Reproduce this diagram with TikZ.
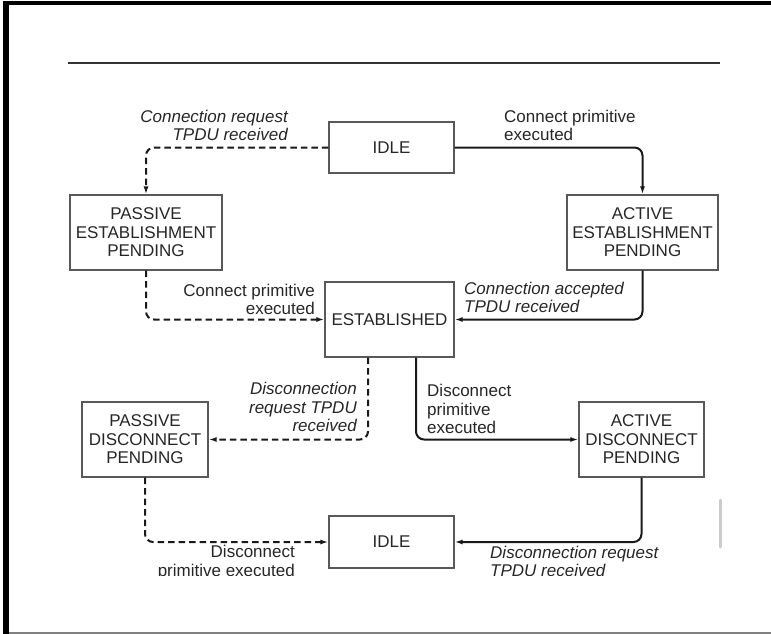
\documentclass[tikz,border=0pt]{standalone}
\usepackage{fontspec}
\setmainfont{Liberation Sans}
\usetikzlibrary{arrows.meta}
\begin{document}
\begin{tikzpicture}[x=1pt,y=-1pt,
  every node/.style={font=\fontsize{17}{18.5}\selectfont, text=black!85},
  state/.style={draw=black!65, line width=1.2pt, inner sep=0pt, align=center},
  lbl/.style={inner sep=0pt},
  solidarrow/.style={draw=black!90, line width=2pt, rounded corners=8pt, -{Latex[length=8pt,width=5pt]}},
  dasharrow/.style={solidarrow, dash pattern=on 6.5pt off 4pt}
]
\useasboundingbox (0,0) rectangle (771,634);
% frame
\draw[line width=6pt] (6,634) -- (6,3);
\draw[line width=4pt] (3,3) -- (771,3);
\draw[black!50, line width=1.5pt] (9,633) -- (771,633);
\draw[black!80, line width=1.4pt] (68,63) -- (720,63);
\draw[black!20, line width=3pt, line cap=round] (720,500) -- (720,547);

% states
\node[state, minimum width=125pt, minimum height=51pt] (idle1) at (391.5,147.5) {IDLE};
\node[state, minimum width=152pt, minimum height=75pt] (pe) at (146,232.5) {PASSIVE\\ESTABLISHMENT\\PENDING};
\node[state, minimum width=151pt, minimum height=75pt] (ae) at (642.5,232.5) {ACTIVE\\ESTABLISHMENT\\PENDING};
\node[state, minimum width=129pt, minimum height=75pt] (est) at (389.5,319.5) {ESTABLISHED};
\node[state, minimum width=126pt, minimum height=75pt] (pd) at (145,439.5) {PASSIVE\\DISCONNECT\\PENDING};
\node[state, minimum width=125pt, minimum height=75pt] (ad) at (641.5,439.5) {ACTIVE\\DISCONNECT\\PENDING};
\node[state, minimum width=125pt, minimum height=52pt] (idle2) at (391.5,542) {IDLE};

% transitions
\draw[dasharrow] (idle1.west) -| (pe.north);
\draw[solidarrow] (idle1.east) -| (ae.north);
\draw[dasharrow] (pe.south) |- (est.west);
\draw[solidarrow] (ae.south) |- (est.east);
\draw[dasharrow] ([xshift=-21.5pt]est.south) |- (pd.east);
\draw[solidarrow] ([xshift=26.5pt]est.south) |- (ad.west);
\draw[dasharrow] (pd.south) |- (idle2.west);
\draw[solidarrow] (ad.south) |- (idle2.east);

% labels
\node[lbl, anchor=east, align=right, font=\fontsize{17}{18.5}\selectfont\itshape] (l1) at (288,125.5) {Connection request\\TPDU received};
\node[lbl, anchor=west, align=left] (l2) at (504,125.5) {Connect primitive\\executed};
\node[lbl, anchor=east, align=right] (l3) at (315,299.5) {Connect primitive\\executed};
\node[lbl, anchor=west, align=left, font=\fontsize{17}{18.5}\selectfont\itshape] (l4) at (464,297.5) {Connection accepted\\TPDU received};
\node[lbl, anchor=east, align=right, font=\fontsize{17}{18.5}\selectfont\itshape] (l5) at (357,407) {Disconnection\\request TPDU\\received};
\node[lbl, anchor=west, align=left] (l6) at (427,409) {Disconnect\\primitive\\executed};
\begin{scope}
\clip (0,0) rectangle (771,575.5);
\node[lbl, anchor=east, align=right] (l7) at (295,562.5) {Disconnect\\primitive executed};
\node[lbl, anchor=west, align=left, font=\fontsize{17}{18.5}\selectfont\itshape] (l8) at (490,561.5) {Disconnection request\\TPDU received};
\end{scope}
\end{tikzpicture}
\end{document}
